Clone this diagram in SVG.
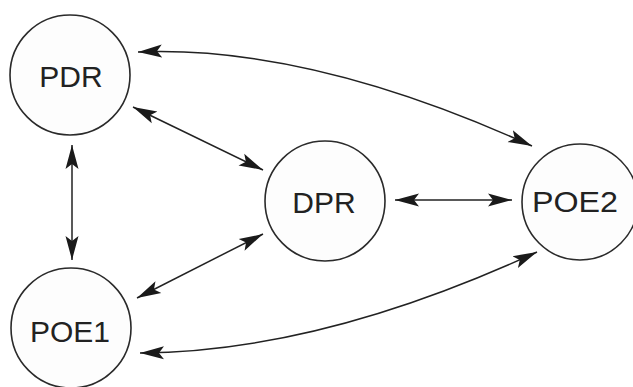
<svg xmlns="http://www.w3.org/2000/svg" width="633" height="387" viewBox="0 0 633 387">
<style>
.node circle{fill:#fdfdfd;stroke:#2a2a2a;stroke-width:1.6}
.node text{font-family:"Liberation Sans",Arial,sans-serif;font-size:30px;fill:#222;text-anchor:middle}
.conn path{fill:none;stroke:#222;stroke-width:1.5;marker-start:url(#ah);marker-end:url(#ah)}
</style>
<defs>
<marker id="ah" markerUnits="userSpaceOnUse" markerWidth="26" markerHeight="16" viewBox="0 0 26 16" refX="24" refY="8" orient="auto-start-reverse">
<path d="M0,1.5 L24,8 L0,14.5 L5,8 Z" fill="#1a1a1a"/>
</marker>
</defs>
<g class="conn">
<path d="M72,145 L72,260"/>
<path d="M133,107 L263,170"/>
<path d="M137,298 L263,234"/>
<path d="M395,200 L512,200"/>
<path d="M138,52 Q310,45 532,146"/>
<path d="M140,353 Q320,352 537,252"/>
</g>
<g class="node" id="PDR"><circle cx="70" cy="75" r="60"/><text x="71" y="87">PDR</text></g>
<g class="node" id="DPR"><circle cx="325" cy="201" r="60"/><text x="324" y="213">DPR</text></g>
<g class="node" id="POE2"><circle cx="580" cy="202" r="58"/><text x="575" y="212" textLength="86" lengthAdjust="spacingAndGlyphs">POE2</text></g>
<g class="node" id="POE1"><circle cx="71" cy="328" r="60"/><text x="70" y="342">POE1</text></g>
</svg>
